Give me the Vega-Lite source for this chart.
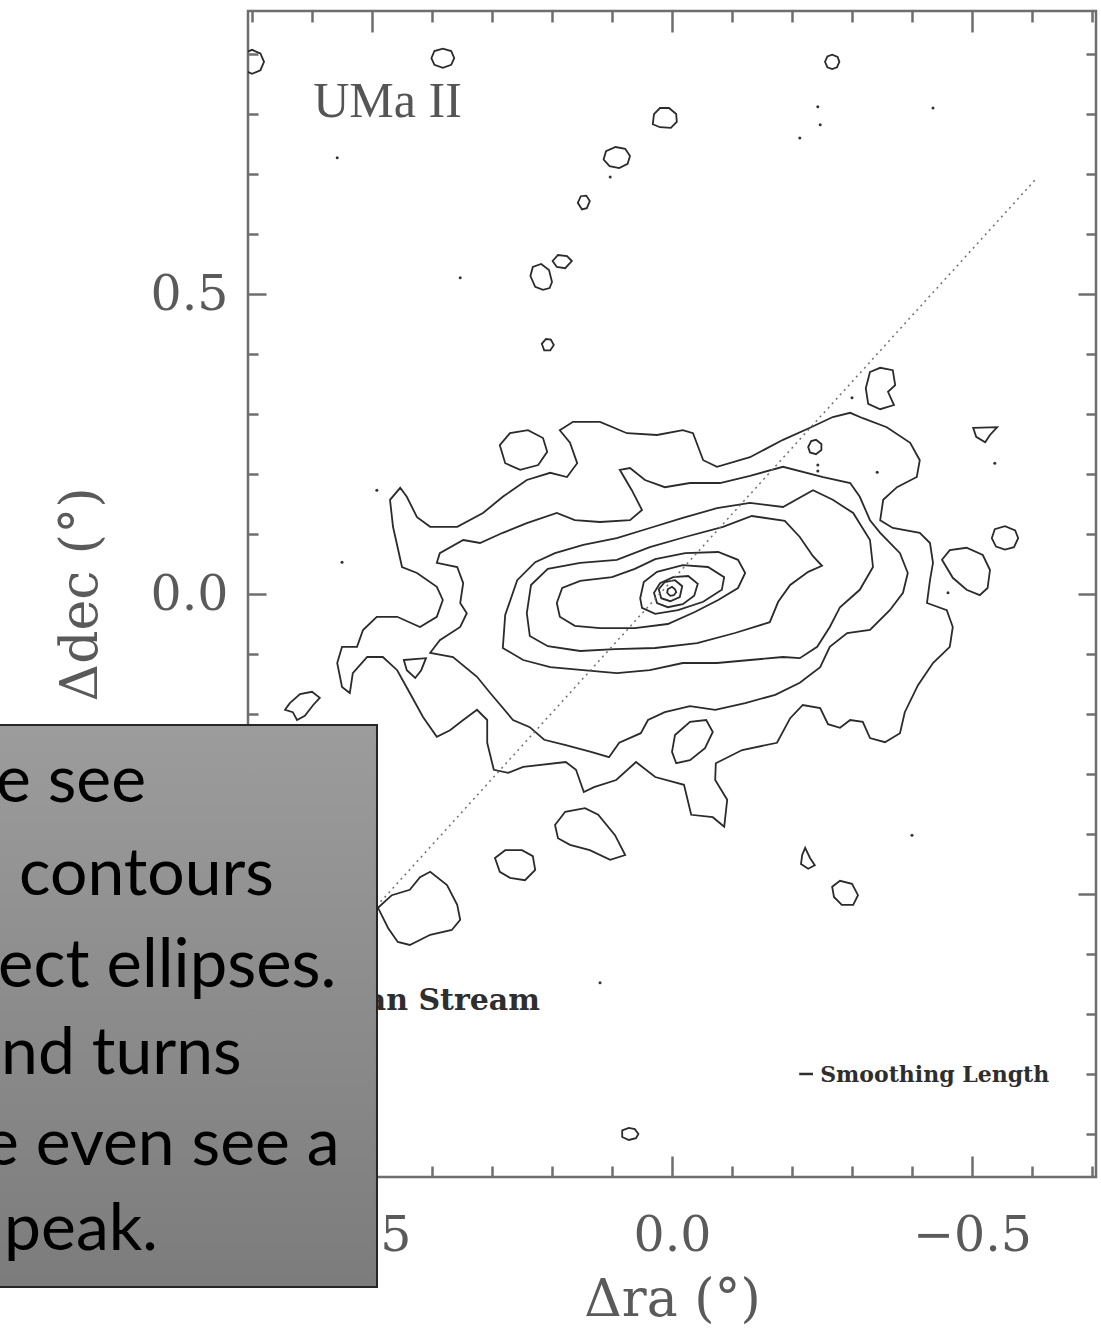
{
  "$schema": "https://vega.github.io/schema/vega-lite/v6.json",
  "width": 848,
  "height": 1166,
  "autosize": {"type": "none"},
  "padding": {"left": 248, "top": 11, "right": 5, "bottom": 152},
  "background": "white",
  "config": {
    "view": {"stroke": "#6e6e6e", "strokeWidth": 2.5},
    "axis": {"grid": false, "domain": false}
  },
  "datasets": {
    "contours": [
      {"c":"a","i":0,"ra":0.453,"dec":0.177},{"c":"a","i":1,"ra":0.442,"dec":0.162},{"c":"a","i":2,"ra":0.425,"dec":0.128},{"c":"a","i":3,"ra":0.403,"dec":0.112},{"c":"a","i":4,"ra":0.358,"dec":0.112},{"c":"a","i":5,"ra":0.315,"dec":0.135},{"c":"a","i":6,"ra":0.282,"dec":0.162},{"c":"a","i":7,"ra":0.242,"dec":0.190},{"c":"a","i":8,"ra":0.203,"dec":0.202},{"c":"a","i":9,"ra":0.175,"dec":0.195},{"c":"a","i":10,"ra":0.158,"dec":0.218},{"c":"a","i":11,"ra":0.170,"dec":0.252},{"c":"a","i":12,"ra":0.187,"dec":0.273},{"c":"a","i":13,"ra":0.165,"dec":0.287},{"c":"a","i":14,"ra":0.120,"dec":0.287},{"c":"a","i":15,"ra":0.075,"dec":0.268},{"c":"a","i":16,"ra":0.025,"dec":0.265},{"c":"a","i":17,"ra":-0.018,"dec":0.273},{"c":"a","i":18,"ra":-0.035,"dec":0.268},{"c":"a","i":19,"ra":-0.052,"dec":0.223},{"c":"a","i":20,"ra":-0.075,"dec":0.212},{"c":"a","i":21,"ra":-0.130,"dec":0.228},{"c":"a","i":22,"ra":-0.185,"dec":0.257},{"c":"a","i":23,"ra":-0.230,"dec":0.277},{"c":"a","i":24,"ra":-0.268,"dec":0.295},{"c":"a","i":25,"ra":-0.297,"dec":0.302},{"c":"a","i":26,"ra":-0.318,"dec":0.293},{"c":"a","i":27,"ra":-0.358,"dec":0.278},{"c":"a","i":28,"ra":-0.397,"dec":0.252},{"c":"a","i":29,"ra":-0.413,"dec":0.223},{"c":"a","i":30,"ra":-0.408,"dec":0.195},{"c":"a","i":31,"ra":-0.375,"dec":0.178},{"c":"a","i":32,"ra":-0.352,"dec":0.157},{"c":"a","i":33,"ra":-0.347,"dec":0.123},{"c":"a","i":34,"ra":-0.368,"dec":0.110},{"c":"a","i":35,"ra":-0.413,"dec":0.102},{"c":"a","i":36,"ra":-0.430,"dec":0.085},{"c":"a","i":37,"ra":-0.435,"dec":0.052},{"c":"a","i":38,"ra":-0.430,"dec":0.023},{"c":"a","i":39,"ra":-0.425,"dec":-0.015},{"c":"a","i":40,"ra":-0.458,"dec":-0.027},{"c":"a","i":41,"ra":-0.468,"dec":-0.055},{"c":"a","i":42,"ra":-0.463,"dec":-0.088},{"c":"a","i":43,"ra":-0.435,"dec":-0.115},{"c":"a","i":43.5,"ra":-0.410,"dec":-0.152},{"c":"a","i":44,"ra":-0.388,"dec":-0.197},{"c":"a","i":44.5,"ra":-0.380,"dec":-0.232},{"c":"a","i":45,"ra":-0.355,"dec":-0.247},{"c":"a","i":45.5,"ra":-0.330,"dec":-0.240},{"c":"a","i":46,"ra":-0.318,"dec":-0.213},{"c":"a","i":46.5,"ra":-0.297,"dec":-0.210},{"c":"a","i":47,"ra":-0.280,"dec":-0.223},{"c":"a","i":47.5,"ra":-0.260,"dec":-0.217},{"c":"a","i":48,"ra":-0.247,"dec":-0.190},{"c":"a","i":48.5,"ra":-0.218,"dec":-0.185},{"c":"a","i":49,"ra":-0.197,"dec":-0.207},{"c":"a","i":50,"ra":-0.175,"dec":-0.248},{"c":"a","i":51,"ra":-0.117,"dec":-0.260},{"c":"a","i":52,"ra":-0.073,"dec":-0.282},{"c":"a","i":53,"ra":-0.072,"dec":-0.310},{"c":"a","i":54,"ra":-0.092,"dec":-0.343},{"c":"a","i":55,"ra":-0.087,"dec":-0.388},{"c":"a","i":56,"ra":-0.068,"dec":-0.372},{"c":"a","i":57,"ra":-0.032,"dec":-0.368},{"c":"a","i":58,"ra":-0.020,"dec":-0.318},{"c":"a","i":59,"ra":0.028,"dec":-0.305},{"c":"a","i":60,"ra":0.060,"dec":-0.280},{"c":"a","i":61,"ra":0.093,"dec":-0.310},{"c":"a","i":62,"ra":0.130,"dec":-0.322},{"c":"a","i":63,"ra":0.147,"dec":-0.330},{"c":"a","i":64,"ra":0.160,"dec":-0.293},{"c":"a","i":65,"ra":0.177,"dec":-0.280},{"c":"a","i":66,"ra":0.248,"dec":-0.288},{"c":"a","i":67,"ra":0.273,"dec":-0.298},{"c":"a","i":68,"ra":0.297,"dec":-0.293},{"c":"a","i":69,"ra":0.308,"dec":-0.248},{"c":"a","i":70,"ra":0.308,"dec":-0.210},{"c":"a","i":71,"ra":0.325,"dec":-0.193},{"c":"a","i":72,"ra":0.348,"dec":-0.210},{"c":"a","i":73,"ra":0.370,"dec":-0.227},{"c":"a","i":74,"ra":0.392,"dec":-0.238},{"c":"a","i":75,"ra":0.415,"dec":-0.205},{"c":"a","i":76,"ra":0.437,"dec":-0.165},{"c":"a","i":77,"ra":0.458,"dec":-0.127},{"c":"a","i":78,"ra":0.482,"dec":-0.105},{"c":"a","i":79,"ra":0.508,"dec":-0.105},{"c":"a","i":80,"ra":0.532,"dec":-0.132},{"c":"a","i":81,"ra":0.537,"dec":-0.165},{"c":"a","i":82,"ra":0.550,"dec":-0.155},{"c":"a","i":83,"ra":0.558,"dec":-0.115},{"c":"a","i":84,"ra":0.550,"dec":-0.088},{"c":"a","i":85,"ra":0.525,"dec":-0.088},{"c":"a","i":86,"ra":0.515,"dec":-0.060},{"c":"a","i":87,"ra":0.492,"dec":-0.038},{"c":"a","i":88,"ra":0.458,"dec":-0.038},{"c":"a","i":89,"ra":0.420,"dec":-0.055},{"c":"a","i":90,"ra":0.392,"dec":-0.038},{"c":"a","i":91,"ra":0.382,"dec":-0.010},{"c":"a","i":92,"ra":0.392,"dec":0.012},{"c":"a","i":93,"ra":0.425,"dec":0.035},{"c":"a","i":94,"ra":0.450,"dec":0.045},{"c":"a","i":95,"ra":0.465,"dec":0.112},{"c":"a","i":96,"ra":0.470,"dec":0.157},

      {"c":"b","i":0,"ra":0.348,"dec":0.090},{"c":"b","i":1,"ra":0.320,"dec":0.085},{"c":"b","i":2,"ra":0.282,"dec":0.102},{"c":"b","i":3,"ra":0.242,"dec":0.118},{"c":"b","i":4,"ra":0.192,"dec":0.135},{"c":"b","i":5,"ra":0.162,"dec":0.123},{"c":"b","i":6,"ra":0.120,"dec":0.120},{"c":"b","i":7,"ra":0.070,"dec":0.123},{"c":"b","i":8,"ra":0.050,"dec":0.140},{"c":"b","i":9,"ra":0.067,"dec":0.173},{"c":"b","i":10,"ra":0.087,"dec":0.207},{"c":"b","i":11,"ra":0.070,"dec":0.210},{"c":"b","i":12,"ra":0.045,"dec":0.190},{"c":"b","i":13,"ra":0.012,"dec":0.178},{"c":"b","i":14,"ra":-0.030,"dec":0.185},{"c":"b","i":15,"ra":-0.080,"dec":0.185},{"c":"b","i":16,"ra":-0.130,"dec":0.197},{"c":"b","i":17,"ra":-0.185,"dec":0.212},{"c":"b","i":18,"ra":-0.252,"dec":0.195},{"c":"b","i":19,"ra":-0.297,"dec":0.185},{"c":"b","i":20,"ra":-0.313,"dec":0.162},{"c":"b","i":21,"ra":-0.330,"dec":0.123},{"c":"b","i":22,"ra":-0.347,"dec":0.102},{"c":"b","i":23,"ra":-0.380,"dec":0.068},{"c":"b","i":24,"ra":-0.393,"dec":0.035},{"c":"b","i":25,"ra":-0.385,"dec":0.002},{"c":"b","i":26,"ra":-0.363,"dec":-0.027},{"c":"b","i":27,"ra":-0.330,"dec":-0.060},{"c":"b","i":28,"ra":-0.292,"dec":-0.065},{"c":"b","i":29,"ra":-0.263,"dec":-0.088},{"c":"b","i":30,"ra":-0.247,"dec":-0.122},{"c":"b","i":31,"ra":-0.213,"dec":-0.148},{"c":"b","i":32,"ra":-0.172,"dec":-0.168},{"c":"b","i":33,"ra":-0.122,"dec":-0.182},{"c":"b","i":34,"ra":-0.072,"dec":-0.193},{"c":"b","i":35,"ra":-0.030,"dec":-0.187},{"c":"b","i":36,"ra":0.012,"dec":-0.197},{"c":"b","i":37,"ra":0.040,"dec":-0.210},{"c":"b","i":38,"ra":0.052,"dec":-0.232},{"c":"b","i":39,"ra":0.088,"dec":-0.248},{"c":"b","i":40,"ra":0.105,"dec":-0.272},{"c":"b","i":41,"ra":0.135,"dec":-0.263},{"c":"b","i":42,"ra":0.177,"dec":-0.252},{"c":"b","i":43,"ra":0.213,"dec":-0.243},{"c":"b","i":44,"ra":0.237,"dec":-0.222},{"c":"b","i":45,"ra":0.265,"dec":-0.210},{"c":"b","i":46,"ra":0.303,"dec":-0.165},{"c":"b","i":47,"ra":0.325,"dec":-0.138},{"c":"b","i":48,"ra":0.365,"dec":-0.105},{"c":"b","i":49,"ra":0.403,"dec":-0.098},{"c":"b","i":50,"ra":0.387,"dec":-0.077},{"c":"b","i":51,"ra":0.353,"dec":-0.055},{"c":"b","i":52,"ra":0.342,"dec":-0.032},{"c":"b","i":53,"ra":0.353,"dec":-0.015},{"c":"b","i":54,"ra":0.348,"dec":0.018},{"c":"b","i":55,"ra":0.358,"dec":0.045},{"c":"b","i":56,"ra":0.392,"dec":0.052},{"c":"b","i":57,"ra":0.387,"dec":0.068},

      {"c":"c","i":0,"ra":0.282,"dec":-0.090},{"c":"c","i":1,"ra":0.278,"dec":-0.035},{"c":"c","i":2,"ra":0.258,"dec":0.023},{"c":"c","i":3,"ra":0.228,"dec":0.053},{"c":"c","i":4,"ra":0.195,"dec":0.068},{"c":"c","i":5,"ra":0.148,"dec":0.082},{"c":"c","i":6,"ra":0.092,"dec":0.093},{"c":"c","i":7,"ra":0.037,"dec":0.110},{"c":"c","i":8,"ra":-0.018,"dec":0.127},{"c":"c","i":9,"ra":-0.075,"dec":0.143},{"c":"c","i":10,"ra":-0.130,"dec":0.152},{"c":"c","i":11,"ra":-0.185,"dec":0.145},{"c":"c","i":12,"ra":-0.235,"dec":0.173},{"c":"c","i":13,"ra":-0.268,"dec":0.157},{"c":"c","i":14,"ra":-0.302,"dec":0.135},{"c":"c","i":15,"ra":-0.330,"dec":0.090},{"c":"c","i":16,"ra":-0.335,"dec":0.045},{"c":"c","i":17,"ra":-0.313,"dec":0.007},{"c":"c","i":18,"ra":-0.280,"dec":-0.022},{"c":"c","i":19,"ra":-0.263,"dec":-0.055},{"c":"c","i":20,"ra":-0.242,"dec":-0.088},{"c":"c","i":21,"ra":-0.213,"dec":-0.107},{"c":"c","i":22,"ra":-0.185,"dec":-0.105},{"c":"c","i":23,"ra":-0.130,"dec":-0.110},{"c":"c","i":24,"ra":-0.075,"dec":-0.115},{"c":"c","i":25,"ra":-0.018,"dec":-0.115},{"c":"c","i":26,"ra":0.037,"dec":-0.127},{"c":"c","i":27,"ra":0.092,"dec":-0.132},{"c":"c","i":28,"ra":0.148,"dec":-0.127},{"c":"c","i":29,"ra":0.203,"dec":-0.122},{"c":"c","i":30,"ra":0.248,"dec":-0.110},

      {"c":"d","i":0,"ra":0.242,"dec":-0.032},{"c":"d","i":1,"ra":0.235,"dec":0.015},{"c":"d","i":2,"ra":0.207,"dec":0.042},{"c":"d","i":3,"ra":0.153,"dec":0.052},{"c":"d","i":4,"ra":0.092,"dec":0.057},{"c":"d","i":5,"ra":0.037,"dec":0.078},{"c":"d","i":6,"ra":-0.022,"dec":0.095},{"c":"d","i":7,"ra":-0.085,"dec":0.112},{"c":"d","i":8,"ra":-0.133,"dec":0.130},{"c":"d","i":9,"ra":-0.188,"dec":0.122},{"c":"d","i":10,"ra":-0.213,"dec":0.095},{"c":"d","i":11,"ra":-0.235,"dec":0.063},{"c":"d","i":12,"ra":-0.250,"dec":0.047},{"c":"d","i":13,"ra":-0.227,"dec":0.037},{"c":"d","i":14,"ra":-0.197,"dec":0.015},{"c":"d","i":15,"ra":-0.177,"dec":-0.013},{"c":"d","i":16,"ra":-0.163,"dec":-0.047},{"c":"d","i":17,"ra":-0.105,"dec":-0.065},{"c":"d","i":18,"ra":-0.042,"dec":-0.082},{"c":"d","i":19,"ra":0.028,"dec":-0.090},{"c":"d","i":20,"ra":0.095,"dec":-0.092},{"c":"d","i":21,"ra":0.153,"dec":-0.095},{"c":"d","i":22,"ra":0.207,"dec":-0.087},{"c":"d","i":23,"ra":0.237,"dec":-0.070},

      {"c":"e","i":0,"ra":0.192,"dec":-0.015},{"c":"e","i":1,"ra":0.183,"dec":0.010},{"c":"e","i":2,"ra":0.153,"dec":0.022},{"c":"e","i":3,"ra":0.100,"dec":0.028},{"c":"e","i":4,"ra":0.062,"dec":0.042},{"c":"e","i":5,"ra":0.028,"dec":0.058},{"c":"e","i":6,"ra":-0.022,"dec":0.068},{"c":"e","i":7,"ra":-0.077,"dec":0.070},{"c":"e","i":8,"ra":-0.110,"dec":0.057},{"c":"e","i":9,"ra":-0.122,"dec":0.035},{"c":"e","i":10,"ra":-0.110,"dec":0.010},{"c":"e","i":11,"ra":-0.077,"dec":-0.010},{"c":"e","i":12,"ra":-0.038,"dec":-0.030},{"c":"e","i":13,"ra":0.007,"dec":-0.050},{"c":"e","i":14,"ra":0.062,"dec":-0.057},{"c":"e","i":15,"ra":0.120,"dec":-0.057},{"c":"e","i":16,"ra":0.162,"dec":-0.053},{"c":"e","i":17,"ra":0.187,"dec":-0.038},

      {"c":"f","i":0,"ra":0.053,"dec":-0.007},{"c":"f","i":1,"ra":0.047,"dec":0.020},{"c":"f","i":2,"ra":0.025,"dec":0.037},{"c":"f","i":3,"ra":-0.018,"dec":0.048},{"c":"f","i":4,"ra":-0.060,"dec":0.045},{"c":"f","i":5,"ra":-0.087,"dec":0.028},{"c":"f","i":6,"ra":-0.083,"dec":0.007},{"c":"f","i":7,"ra":-0.052,"dec":-0.013},{"c":"f","i":8,"ra":-0.010,"dec":-0.027},{"c":"f","i":9,"ra":0.028,"dec":-0.033},{"c":"f","i":10,"ra":0.050,"dec":-0.023},

      {"c":"g","i":0,"ra":-0.043,"dec":0.017},{"c":"g","i":1,"ra":-0.037,"dec":-0.003},{"c":"g","i":2,"ra":-0.018,"dec":-0.017},{"c":"g","i":3,"ra":0.007,"dec":-0.022},{"c":"g","i":4,"ra":0.025,"dec":-0.015},{"c":"g","i":5,"ra":0.030,"dec":0.002},{"c":"g","i":6,"ra":0.020,"dec":0.018},{"c":"g","i":7,"ra":-0.002,"dec":0.028},{"c":"g","i":8,"ra":-0.027,"dec":0.030},

      {"c":"h","i":0,"ra":-0.017,"dec":0.013},{"c":"h","i":1,"ra":-0.013,"dec":-0.005},{"c":"h","i":2,"ra":0.003,"dec":-0.012},{"c":"h","i":3,"ra":0.018,"dec":-0.007},{"c":"h","i":4,"ra":0.022,"dec":0.008},{"c":"h","i":5,"ra":0.012,"dec":0.020},{"c":"h","i":6,"ra":-0.005,"dec":0.023},

      {"c":"k","i":0,"ra":-0.007,"dec":0.003},{"c":"k","i":1,"ra":-0.003,"dec":-0.002},{"c":"k","i":2,"ra":0.003,"dec":-0.003},{"c":"k","i":3,"ra":0.008,"dec":0.002},{"c":"k","i":4,"ra":0.007,"dec":0.008},{"c":"k","i":5,"ra":0.000,"dec":0.012},{"c":"k","i":6,"ra":-0.005,"dec":0.008},

      {"c":"i1","i":0,"ra":0.720,"dec":0.887},{"c":"i1","i":1,"ra":0.714,"dec":0.901},{"c":"i1","i":2,"ra":0.700,"dec":0.907},{"c":"i1","i":3,"ra":0.686,"dec":0.901},{"c":"i1","i":4,"ra":0.680,"dec":0.887},{"c":"i1","i":5,"ra":0.686,"dec":0.873},{"c":"i1","i":6,"ra":0.700,"dec":0.867},{"c":"i1","i":7,"ra":0.714,"dec":0.873},
      {"c":"i2","i":0,"ra":0.363,"dec":0.893},{"c":"i2","i":1,"ra":0.368,"dec":0.905},{"c":"i2","i":2,"ra":0.382,"dec":0.909},{"c":"i2","i":3,"ra":0.396,"dec":0.905},{"c":"i2","i":4,"ra":0.401,"dec":0.893},{"c":"i2","i":5,"ra":0.396,"dec":0.882},{"c":"i2","i":6,"ra":0.382,"dec":0.877},{"c":"i2","i":7,"ra":0.368,"dec":0.882},
      {"c":"i3","i":0,"ra":0.070,"dec":0.730},{"c":"i3","i":1,"ra":0.078,"dec":0.742},{"c":"i3","i":2,"ra":0.094,"dec":0.745},{"c":"i3","i":3,"ra":0.110,"dec":0.738},{"c":"i3","i":4,"ra":0.114,"dec":0.724},{"c":"i3","i":5,"ra":0.104,"dec":0.713},{"c":"i3","i":6,"ra":0.088,"dec":0.710},{"c":"i3","i":7,"ra":0.074,"dec":0.717},
      {"c":"i4","i":0,"ra":0.137,"dec":0.655},{"c":"i4","i":1,"ra":0.143,"dec":0.664},{"c":"i4","i":2,"ra":0.152,"dec":0.663},{"c":"i4","i":3,"ra":0.157,"dec":0.652},{"c":"i4","i":4,"ra":0.150,"dec":0.641},{"c":"i4","i":5,"ra":0.142,"dec":0.643},
      {"c":"i5","i":0,"ra":0.200,"dec":0.520},{"c":"i5","i":1,"ra":0.205,"dec":0.540},{"c":"i5","i":2,"ra":0.218,"dec":0.550},{"c":"i5","i":3,"ra":0.232,"dec":0.545},{"c":"i5","i":4,"ra":0.236,"dec":0.530},{"c":"i5","i":5,"ra":0.228,"dec":0.512},{"c":"i5","i":6,"ra":0.215,"dec":0.507},{"c":"i5","i":7,"ra":0.204,"dec":0.510},
      {"c":"i6","i":0,"ra":0.167,"dec":0.555},{"c":"i6","i":1,"ra":0.175,"dec":0.563},{"c":"i6","i":2,"ra":0.190,"dec":0.565},{"c":"i6","i":3,"ra":0.199,"dec":0.555},{"c":"i6","i":4,"ra":0.192,"dec":0.545},{"c":"i6","i":5,"ra":0.178,"dec":0.543},
      {"c":"i7","i":0,"ra":-0.255,"dec":0.887},{"c":"i7","i":1,"ra":-0.259,"dec":0.896},{"c":"i7","i":2,"ra":-0.267,"dec":0.899},{"c":"i7","i":3,"ra":-0.276,"dec":0.895},{"c":"i7","i":4,"ra":-0.279,"dec":0.887},{"c":"i7","i":5,"ra":-0.275,"dec":0.878},{"c":"i7","i":6,"ra":-0.267,"dec":0.875},{"c":"i7","i":7,"ra":-0.259,"dec":0.878},
      {"c":"i8","i":0,"ra":0.030,"dec":0.800},{"c":"i8","i":1,"ra":0.020,"dec":0.810},{"c":"i8","i":2,"ra":0.005,"dec":0.810},{"c":"i8","i":3,"ra":-0.007,"dec":0.800},{"c":"i8","i":4,"ra":-0.008,"dec":0.787},{"c":"i8","i":5,"ra":0.002,"dec":0.777},{"c":"i8","i":6,"ra":0.020,"dec":0.778},{"c":"i8","i":7,"ra":0.032,"dec":0.783},
      {"c":"i9","i":0,"ra":0.197,"dec":0.415},{"c":"i9","i":1,"ra":0.202,"dec":0.424},{"c":"i9","i":2,"ra":0.210,"dec":0.425},{"c":"i9","i":3,"ra":0.217,"dec":0.417},{"c":"i9","i":4,"ra":0.213,"dec":0.406},{"c":"i9","i":5,"ra":0.203,"dec":0.406},
      {"c":"i10","i":0,"ra":-0.330,"dec":0.370},{"c":"i10","i":1,"ra":-0.347,"dec":0.377},{"c":"i10","i":2,"ra":-0.368,"dec":0.373},{"c":"i10","i":3,"ra":-0.372,"dec":0.348},{"c":"i10","i":4,"ra":-0.360,"dec":0.337},{"c":"i10","i":5,"ra":-0.370,"dec":0.315},{"c":"i10","i":6,"ra":-0.347,"dec":0.308},{"c":"i10","i":7,"ra":-0.327,"dec":0.317},{"c":"i10","i":8,"ra":-0.323,"dec":0.343},
      {"c":"i11","i":0,"ra":-0.502,"dec":0.277},{"c":"i11","i":1,"ra":-0.542,"dec":0.278},{"c":"i11","i":2,"ra":-0.530,"dec":0.265},{"c":"i11","i":3,"ra":-0.522,"dec":0.253},{"c":"i11","i":4,"ra":-0.507,"dec":0.262},
      {"c":"i12","i":0,"ra":-0.533,"dec":0.093},{"c":"i12","i":1,"ra":-0.538,"dec":0.108},{"c":"i12","i":2,"ra":-0.555,"dec":0.113},{"c":"i12","i":3,"ra":-0.572,"dec":0.106},{"c":"i12","i":4,"ra":-0.577,"dec":0.093},{"c":"i12","i":5,"ra":-0.570,"dec":0.078},{"c":"i12","i":6,"ra":-0.555,"dec":0.074},{"c":"i12","i":7,"ra":-0.540,"dec":0.079},
      {"c":"i13","i":0,"ra":-0.450,"dec":0.057},{"c":"i13","i":1,"ra":-0.463,"dec":0.073},{"c":"i13","i":2,"ra":-0.491,"dec":0.077},{"c":"i13","i":3,"ra":-0.518,"dec":0.065},{"c":"i13","i":4,"ra":-0.530,"dec":0.040},{"c":"i13","i":5,"ra":-0.526,"dec":0.010},{"c":"i13","i":6,"ra":-0.513,"dec":-0.002},{"c":"i13","i":7,"ra":-0.491,"dec":0.007},{"c":"i13","i":8,"ra":-0.468,"dec":0.027},
      {"c":"i14","i":0,"ra":0.287,"dec":0.248},{"c":"i14","i":1,"ra":0.270,"dec":0.268},{"c":"i14","i":2,"ra":0.240,"dec":0.273},{"c":"i14","i":3,"ra":0.215,"dec":0.260},{"c":"i14","i":4,"ra":0.208,"dec":0.237},{"c":"i14","i":5,"ra":0.223,"dec":0.215},{"c":"i14","i":6,"ra":0.253,"dec":0.207},{"c":"i14","i":7,"ra":0.278,"dec":0.218},
      {"c":"i15","i":0,"ra":-0.227,"dec":0.245},{"c":"i15","i":1,"ra":-0.232,"dec":0.255},{"c":"i15","i":2,"ra":-0.240,"dec":0.257},{"c":"i15","i":3,"ra":-0.249,"dec":0.250},{"c":"i15","i":4,"ra":-0.249,"dec":0.240},{"c":"i15","i":5,"ra":-0.240,"dec":0.233},{"c":"i15","i":6,"ra":-0.230,"dec":0.236},
      {"c":"i16","i":0,"ra":0.447,"dec":-0.110},{"c":"i16","i":1,"ra":0.410,"dec":-0.107},{"c":"i16","i":2,"ra":0.418,"dec":-0.127},{"c":"i16","i":3,"ra":0.428,"dec":-0.140},{"c":"i16","i":4,"ra":0.442,"dec":-0.127},
      {"c":"i17","i":0,"ra":0.637,"dec":-0.182},{"c":"i17","i":1,"ra":0.620,"dec":-0.167},{"c":"i17","i":2,"ra":0.600,"dec":-0.163},{"c":"i17","i":3,"ra":0.587,"dec":-0.173},{"c":"i17","i":4,"ra":0.598,"dec":-0.185},{"c":"i17","i":5,"ra":0.612,"dec":-0.203},{"c":"i17","i":6,"ra":0.625,"dec":-0.210},{"c":"i17","i":7,"ra":0.632,"dec":-0.197},{"c":"i17","i":8,"ra":0.645,"dec":-0.193},
      {"c":"i18","i":0,"ra":0.000,"dec":-0.263},{"c":"i18","i":1,"ra":-0.005,"dec":-0.235},{"c":"i18","i":2,"ra":-0.030,"dec":-0.213},{"c":"i18","i":3,"ra":-0.057,"dec":-0.210},{"c":"i18","i":4,"ra":-0.068,"dec":-0.230},{"c":"i18","i":5,"ra":-0.055,"dec":-0.257},{"c":"i18","i":6,"ra":-0.030,"dec":-0.277},{"c":"i18","i":7,"ra":-0.007,"dec":-0.282},
      {"c":"i19","i":0,"ra":0.490,"dec":-0.523},{"c":"i19","i":1,"ra":0.467,"dec":-0.502},{"c":"i19","i":2,"ra":0.437,"dec":-0.493},{"c":"i19","i":3,"ra":0.420,"dec":-0.472},{"c":"i19","i":4,"ra":0.403,"dec":-0.463},{"c":"i19","i":5,"ra":0.375,"dec":-0.485},{"c":"i19","i":6,"ra":0.358,"dec":-0.518},{"c":"i19","i":7,"ra":0.353,"dec":-0.543},{"c":"i19","i":8,"ra":0.367,"dec":-0.560},{"c":"i19","i":9,"ra":0.403,"dec":-0.568},{"c":"i19","i":10,"ra":0.437,"dec":-0.585},{"c":"i19","i":11,"ra":0.457,"dec":-0.580},{"c":"i19","i":12,"ra":0.473,"dec":-0.557},
      {"c":"i20","i":0,"ra":0.295,"dec":-0.440},{"c":"i20","i":1,"ra":0.278,"dec":-0.427},{"c":"i20","i":2,"ra":0.250,"dec":-0.427},{"c":"i20","i":3,"ra":0.232,"dec":-0.437},{"c":"i20","i":4,"ra":0.228,"dec":-0.460},{"c":"i20","i":5,"ra":0.245,"dec":-0.477},{"c":"i20","i":6,"ra":0.270,"dec":-0.473},{"c":"i20","i":7,"ra":0.287,"dec":-0.463},
      {"c":"i21","i":0,"ra":0.195,"dec":-0.385},{"c":"i21","i":1,"ra":0.178,"dec":-0.363},{"c":"i21","i":2,"ra":0.145,"dec":-0.357},{"c":"i21","i":3,"ra":0.123,"dec":-0.368},{"c":"i21","i":4,"ra":0.095,"dec":-0.402},{"c":"i21","i":5,"ra":0.078,"dec":-0.435},{"c":"i21","i":6,"ra":0.103,"dec":-0.443},{"c":"i21","i":7,"ra":0.137,"dec":-0.427},{"c":"i21","i":8,"ra":0.170,"dec":-0.418},{"c":"i21","i":9,"ra":0.190,"dec":-0.407},
      {"c":"i22","i":0,"ra":-0.222,"dec":-0.423},{"c":"i22","i":1,"ra":-0.230,"dec":-0.440},{"c":"i22","i":2,"ra":-0.238,"dec":-0.452},{"c":"i22","i":3,"ra":-0.227,"dec":-0.458},{"c":"i22","i":4,"ra":-0.215,"dec":-0.450},{"c":"i22","i":5,"ra":-0.217,"dec":-0.435},
      {"c":"i23","i":0,"ra":-0.267,"dec":-0.488},{"c":"i23","i":1,"ra":-0.280,"dec":-0.478},{"c":"i23","i":2,"ra":-0.300,"dec":-0.483},{"c":"i23","i":3,"ra":-0.310,"dec":-0.502},{"c":"i23","i":4,"ra":-0.302,"dec":-0.518},{"c":"i23","i":5,"ra":-0.283,"dec":-0.518},{"c":"i23","i":6,"ra":-0.270,"dec":-0.505},
      {"c":"i24","i":0,"ra":0.056,"dec":-0.900},{"c":"i24","i":1,"ra":0.062,"dec":-0.892},{"c":"i24","i":2,"ra":0.072,"dec":-0.890},{"c":"i24","i":3,"ra":0.083,"dec":-0.894},{"c":"i24","i":4,"ra":0.083,"dec":-0.905},{"c":"i24","i":5,"ra":0.072,"dec":-0.910},{"c":"i24","i":6,"ra":0.060,"dec":-0.907}
    ],
    "specks": [
      {"ra":0.558,"dec":0.727},{"ra":0.103,"dec":0.695},{"ra":0.353,"dec":0.527},{"ra":-0.243,"dec":0.812},{"ra":-0.247,"dec":0.782},{"ra":-0.213,"dec":0.760},{"ra":-0.435,"dec":0.810},{"ra":-0.300,"dec":0.327},{"ra":-0.538,"dec":0.218},{"ra":-0.342,"dec":0.203},{"ra":-0.460,"dec":0.002},{"ra":0.492,"dec":0.173},{"ra":0.550,"dec":0.053},{"ra":-0.400,"dec":-0.402},{"ra":0.120,"dec":-0.648},{"ra":-0.243,"dec":0.215},{"ra":-0.243,"dec":0.205}
    ],
    "axisline": [
      {"ra":0.600,"dec":-0.639},{"ra":-0.605,"dec":0.690}
    ],
    "one": [{}]
  },
  "resolve": {"axis": {"x": "independent", "y": "independent"}},
  "layer": [
    {
      "data": {"name": "contours"},
      "mark": {"type": "line", "interpolate": "linear-closed", "stroke": "#2b2b2b", "strokeWidth": 1.8, "clip": true},
      "encoding": {
        "x": {"field": "ra", "type": "quantitative",
              "scale": {"domain": [-0.7067, 0.7067], "reverse": true, "nice": false, "zero": false},
              "axis": {"orient": "bottom", "values": [-0.5, 0, 0.5], "format": ".1f", "ticks": false, "labelPadding": 34, "labelFlush": false,
                       "labelFont": "DejaVu Serif", "labelFontSize": 49, "labelColor": "#5a5a5a",
                       "title": "Δra (°)", "titleFont": "DejaVu Serif", "titleFontSize": 52, "titleFontWeight": "normal", "titleColor": "#5a5a5a", "titlePadding": 14}},
        "y": {"field": "dec", "type": "quantitative",
              "scale": {"domain": [-0.9717, 0.9717], "nice": false, "zero": false},
              "axis": {"orient": "left", "values": [0, 0.5], "format": ".1f", "ticks": false, "labelPadding": 20, "labelFlush": false,
                       "labelFont": "DejaVu Serif", "labelFontSize": 49, "labelColor": "#5a5a5a",
                       "title": "Δdec (°)", "titleFont": "DejaVu Serif", "titleFontSize": 52, "titleFontWeight": "normal", "titleColor": "#5a5a5a", "titlePadding": 43}},
        "detail": {"field": "c"},
        "order": {"field": "i", "type": "quantitative"}
      }
    },
    {
      "data": {"name": "specks"},
      "mark": {"type": "point", "filled": true, "size": 9, "color": "#333333", "opacity": 1, "clip": true},
      "encoding": {
        "x": {"field": "ra", "type": "quantitative",
              "scale": {"domain": [-0.7067, 0.7067], "reverse": true, "nice": false, "zero": false},
              "axis": {"orient": "bottom", "values": [-0.7, -0.6, -0.5, -0.4, -0.3, -0.2, -0.1, 0, 0.1, 0.2, 0.3, 0.4, 0.5, 0.6, 0.7], "labels": false, "title": null,
                       "tickColor": "#6e6e6e", "tickWidth": 2.5,
                       "tickSize": {"condition": {"test": "abs(datum.value) < 0.01 || abs(abs(datum.value) - 0.5) < 0.01", "value": -21}, "value": -11}}},
        "y": {"field": "dec", "type": "quantitative",
              "scale": {"domain": [-0.9717, 0.9717], "nice": false, "zero": false},
              "axis": {"orient": "left", "values": [-0.9, -0.8, -0.7, -0.6, -0.5, -0.4, -0.3, -0.2, -0.1, 0, 0.1, 0.2, 0.3, 0.4, 0.5, 0.6, 0.7, 0.8, 0.9], "labels": false, "title": null,
                       "tickColor": "#6e6e6e", "tickWidth": 2.5,
                       "tickSize": {"condition": {"test": "abs(datum.value) < 0.01 || abs(abs(datum.value) - 0.5) < 0.01", "value": -18}, "value": -10}}}
      }
    },
    {
      "data": {"name": "axisline"},
      "mark": {"type": "line", "stroke": "#707070", "strokeWidth": 1.5, "strokeDash": [2, 4], "clip": true},
      "encoding": {
        "x": {"field": "ra", "type": "quantitative",
              "scale": {"domain": [-0.7067, 0.7067], "reverse": true, "nice": false, "zero": false},
              "axis": {"orient": "top", "values": [-0.7, -0.6, -0.5, -0.4, -0.3, -0.2, -0.1, 0, 0.1, 0.2, 0.3, 0.4, 0.5, 0.6, 0.7], "labels": false, "title": null,
                       "tickColor": "#6e6e6e", "tickWidth": 2.5,
                       "tickSize": {"condition": {"test": "abs(datum.value) < 0.01 || abs(abs(datum.value) - 0.5) < 0.01", "value": -21}, "value": -11}}},
        "y": {"field": "dec", "type": "quantitative",
              "scale": {"domain": [-0.9717, 0.9717], "nice": false, "zero": false},
              "axis": {"orient": "right", "values": [-0.9, -0.8, -0.7, -0.6, -0.5, -0.4, -0.3, -0.2, -0.1, 0, 0.1, 0.2, 0.3, 0.4, 0.5, 0.6, 0.7, 0.8, 0.9], "labels": false, "title": null,
                       "tickColor": "#6e6e6e", "tickWidth": 2.5,
                       "tickSize": {"condition": {"test": "abs(datum.value) < 0.01 || abs(abs(datum.value) - 0.5) < 0.01", "value": -18}, "value": -10}}}
      }
    },
    {
      "data": {"name": "one"},
      "mark": {"type": "text", "text": "UMa II", "align": "left", "baseline": "alphabetic", "font": "Liberation Serif", "fontSize": 50, "color": "#555555"},
      "encoding": {
        "x": {"datum": 0.598, "type": "quantitative", "axis": null},
        "y": {"datum": 0.795, "type": "quantitative", "axis": null}
      }
    },
    {
      "data": {"name": "one"},
      "mark": {"type": "text", "text": "an Stream", "align": "right", "baseline": "alphabetic", "font": "DejaVu Serif", "fontWeight": "bold", "fontSize": 30, "color": "#2e2e2e"},
      "encoding": {
        "x": {"datum": 0.220, "type": "quantitative", "axis": null},
        "y": {"datum": -0.693, "type": "quantitative", "axis": null}
      }
    },
    {
      "data": {"name": "one"},
      "mark": {"type": "text", "text": "Smoothing Length", "align": "left", "baseline": "alphabetic", "font": "DejaVu Serif", "fontWeight": "bold", "fontSize": 22, "color": "#2e2e2e"},
      "encoding": {
        "x": {"datum": -0.247, "type": "quantitative", "axis": null},
        "y": {"datum": -0.813, "type": "quantitative", "axis": null}
      }
    },
    {
      "data": {"name": "one"},
      "mark": {"type": "rule", "stroke": "#2e2e2e", "strokeWidth": 2.5},
      "encoding": {
        "x": {"datum": -0.212, "type": "quantitative", "axis": null},
        "x2": {"datum": -0.235},
        "y": {"datum": -0.8, "type": "quantitative", "axis": null}
      }
    },
    {
      "data": {"name": "one"},
      "mark": {"type": "rect", "clip": false, "stroke": "#262626", "strokeWidth": 2,
               "fill": {"gradient": "linear", "x1": 0, "y1": 0, "x2": 0, "y2": 1,
                        "stops": [{"offset": 0, "color": "#9c9c9c"}, {"offset": 1, "color": "#7c7c7c"}]}},
      "encoding": {
        "x": {"datum": 1.2, "type": "quantitative", "axis": null},
        "x2": {"datum": 0.4917},
        "y": {"datum": -0.2183, "type": "quantitative", "axis": null},
        "y2": {"datum": -1.155}
      }
    },
    {
      "data": {"name": "one"},
      "mark": {"type": "text", "clip": false, "text": "e see", "align": "left", "baseline": "alphabetic", "font": "Lato", "fontSize": 66, "color": "#000000"},
      "encoding": {"x": {"datum": 1.1267, "type": "quantitative", "axis": null}, "y": {"datum": -0.3467, "type": "quantitative", "axis": null}}
    },
    {
      "data": {"name": "one"},
      "mark": {"type": "text", "clip": false, "text": "contours", "align": "left", "baseline": "alphabetic", "font": "Lato", "fontSize": 66, "color": "#000000"},
      "encoding": {"x": {"datum": 1.0883, "type": "quantitative", "axis": null}, "y": {"datum": -0.5017, "type": "quantitative", "axis": null}}
    },
    {
      "data": {"name": "one"},
      "mark": {"type": "text", "clip": false, "text": "ect ellipses.", "align": "left", "baseline": "alphabetic", "font": "Lato", "fontSize": 67, "color": "#000000"},
      "encoding": {"x": {"datum": 1.1233, "type": "quantitative", "axis": null}, "y": {"datum": -0.655, "type": "quantitative", "axis": null}}
    },
    {
      "data": {"name": "one"},
      "mark": {"type": "text", "clip": false, "text": "nd turns", "align": "left", "baseline": "alphabetic", "font": "Lato", "fontSize": 66, "color": "#000000"},
      "encoding": {"x": {"datum": 1.1183, "type": "quantitative", "axis": null}, "y": {"datum": -0.8, "type": "quantitative", "axis": null}}
    },
    {
      "data": {"name": "one"},
      "mark": {"type": "text", "clip": false, "text": "e even see a", "align": "left", "baseline": "alphabetic", "font": "Lato", "fontSize": 66, "color": "#000000"},
      "encoding": {"x": {"datum": 1.1467, "type": "quantitative", "axis": null}, "y": {"datum": -0.9517, "type": "quantitative", "axis": null}}
    },
    {
      "data": {"name": "one"},
      "mark": {"type": "text", "clip": false, "text": "peak.", "align": "left", "baseline": "alphabetic", "font": "Lato", "fontSize": 66, "color": "#000000"},
      "encoding": {"x": {"datum": 1.1133, "type": "quantitative", "axis": null}, "y": {"datum": -1.0933, "type": "quantitative", "axis": null}}
    }
  ]
}
